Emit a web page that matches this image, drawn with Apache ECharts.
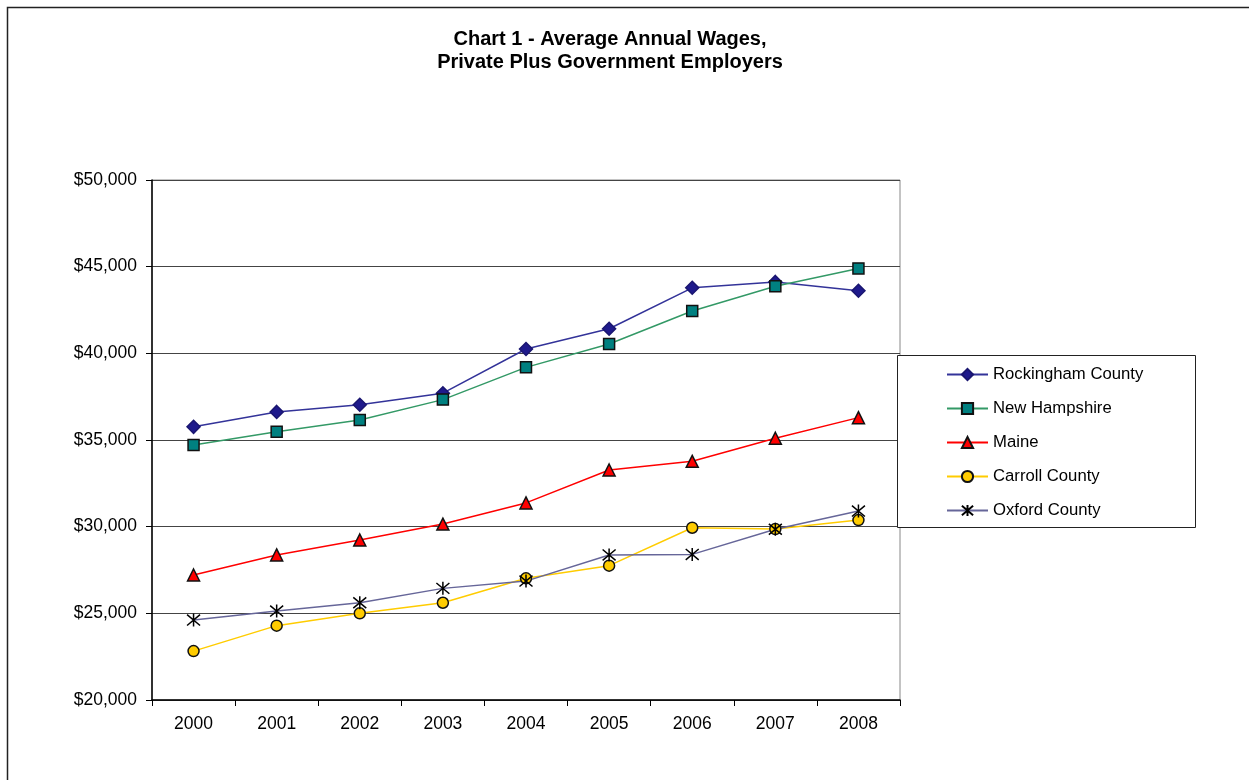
<!DOCTYPE html>
<html>
<head>
<meta charset="utf-8">
<script src="https://cdn.jsdelivr.net/npm/echarts@6/dist/echarts.min.js"></script>
<style>
  html, body { margin: 0; padding: 0; background: #fff; }
  #chart { width: 1249px; height: 780px; }
</style>
</head>
<body>
<div id="chart"></div>
<script>
// values
const years = ["2000", "2001", "2002", "2003", "2004", "2005", "2006", "2007", "2008"];
const rockingham = [35760, 36620, 37030, 37700, 40250, 41420, 43780, 44120, 43610];
const newHampshire = [34710, 35480, 36150, 37330, 39190, 40540, 42440, 43870, 44900];
const maine = [27210, 28370, 29230, 30150, 31370, 33270, 33770, 35100, 36290];
const carroll = [22820, 24290, 25000, 25610, 27020, 27750, 29940, 29860, 30380];
const oxford = [24610, 25130, 25610, 26440, 26860, 28370, 28400, 29850, 30900];

const font = "Liberation Sans, Arial, sans-serif";
const asterisk = "path://M0,0L10,10M10,0L0,10M5,-1L5,11";

function lineSeries(name, data, lineColor, symbol, size, fill, border) {
  return {
    name: name,
    type: "line",
    data: data,
    symbol: symbol,
    symbolSize: size,
    showAllSymbol: true,
    lineStyle: { color: lineColor, width: 1.5 },
    itemStyle: { color: fill, borderColor: border, borderWidth: 1.5 },
    emphasis: { disabled: true },
    z: 3
  };
}

const chart = echarts.init(document.getElementById("chart"));
chart.setOption({
  animation: false,
  backgroundColor: "#fff",
  title: {
    text: "Chart 1 - Average Annual Wages,\nPrivate Plus Government Employers",
    left: 610,
    top: 28,
    padding: 0,
    itemGap: 0,
    textAlign: "center",
    textStyle: {
      fontFamily: font,
      fontSize: 20,
      fontWeight: "bold",
      color: "#000",
      lineHeight: 23
    }
  },
  graphic: [
    {
      type: "rect",
      shape: { x: 7.5, y: 7.5, width: 1400, height: 1000 },
      style: { fill: "none", stroke: "#222", lineWidth: 1.5 },
      silent: true
    },
    {
      type: "rect",
      shape: { x: 897.5, y: 355.5, width: 298, height: 172 },
      style: { fill: "#fff", stroke: "#222", lineWidth: 1 },
      silent: true,
      z: 10
    }
  ],
  legend: {
    orient: "vertical",
    left: 946,
    top: 366,
    padding: 0,
    itemGap: 17,
    itemWidth: 41,
    itemHeight: 14,
    z: 20,
    selectedMode: false,
    textStyle: { fontFamily: font, fontSize: 16.7, color: "#000" }
  },
  grid: {
    left: 152,
    top: 180,
    right: 349,
    bottom: 80,
    show: true,
    borderColor: "#888",
    borderWidth: 1,
    containLabel: false
  },
  xAxis: {
    type: "category",
    data: years,
    boundaryGap: true,
    axisLine: { lineStyle: { color: "#000", width: 1.5 } },
    axisTick: { show: true, length: 6, inside: false, lineStyle: { color: "#000" } },
    axisLabel: { fontFamily: font, fontSize: 17.5, color: "#000", margin: 15 },
    splitLine: { show: false }
  },
  yAxis: {
    type: "value",
    min: 20000,
    max: 50000,
    interval: 5000,
    axisLine: { show: true, lineStyle: { color: "#000", width: 1.5 } },
    axisTick: { show: true, length: 6, lineStyle: { color: "#000" } },
    axisLabel: {
      fontFamily: font,
      fontSize: 17.5,
      color: "#000",
      margin: 15,
      formatter: function (v) { return "$" + v.toLocaleString("en-US"); }
    },
    splitLine: { show: true, lineStyle: { color: "#444", width: 1 } }
  },
  series: [
    lineSeries("Rockingham County", rockingham, "#333399", "diamond", 13, "#1f1a8c", "#1a1670"),
    lineSeries("New Hampshire", newHampshire, "#339966", "rect", 11, "#008080", "#111"),
    lineSeries("Maine", maine, "#ff0000", "triangle", 12, "#ff0000", "#111"),
    lineSeries("Carroll County", carroll, "#ffcc00", "circle", 11, "#ffcc00", "#111"),
    lineSeries("Oxford County", oxford, "#666699", asterisk, 13, "#000", "#000")
  ]
});
</script>
</body>
</html>
